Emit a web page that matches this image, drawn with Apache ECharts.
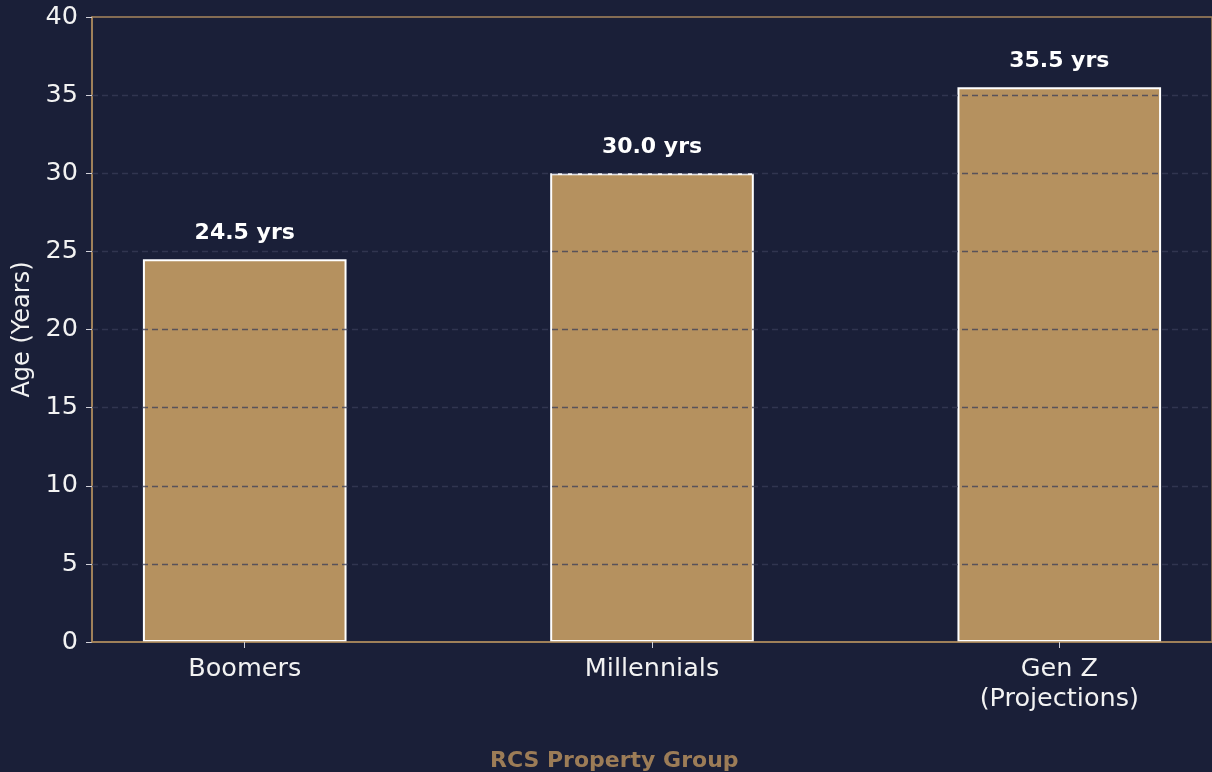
<!DOCTYPE html>
<html>
<head>
<meta charset="utf-8">
<title>Age by Generation</title>
<script src="https://cdn.jsdelivr.net/npm/echarts@6/dist/echarts.min.js"></script>
<style>
  html, body { margin: 0; padding: 0; background: #1a1f38; }
  #chart { width: 1212px; height: 772px; }
</style>
</head>
<body>
<div id="chart"></div>
<script>
// Generations and their age values (years)
const categories = ['Boomers', 'Millennials', 'Gen Z\n(Projections)'];
const ages = [24.5, 30.0, 35.5];
const yTicks = [0, 5, 10, 15, 20, 25, 30, 35, 40];
const categoryPositions = categories.map((_, i) => i);

const FONT = 'DejaVu Sans';
const TAN = '#b5915f';
const SPINE = '#a8875c';

const chart = echarts.init(document.getElementById('chart'), null, { renderer: 'canvas' });

chart.setOption({
  backgroundColor: '#1a1f38',
  animation: false,
  grid: {
    left: 92, right: 0, top: 17, bottom: 130,
    outerBoundsMode: 'none',
    containLabel: false,
    show: true, borderColor: SPINE, borderWidth: 1.5,
    backgroundColor: 'transparent'
  },
  xAxis: {
    type: 'value',
    min: -0.375,
    max: 2.375,
    z: 10,
    splitLine: { show: false },
    axisLine: { show: true, onZero: false, lineStyle: { color: SPINE, width: 1.5 } },
    axisTick: {
      show: true, customValues: categoryPositions, length: 6,
      lineStyle: { color: '#d0d0d8', width: 1 }
    },
    axisLabel: {
      customValues: categoryPositions,
      formatter: v => categories[Math.round(v)],
      color: '#f2f2f2', fontFamily: FONT, fontSize: 25.5,
      lineHeight: 30, margin: 12, verticalAlign: 'top'
    }
  },
  yAxis: {
    type: 'value',
    min: yTicks[0],
    max: yTicks[yTicks.length - 1],
    interval: 5,
    name: 'Age (Years)',
    nameLocation: 'middle',
    nameGap: 56,
    nameTextStyle: { color: '#f2f2f2', fontFamily: FONT, fontSize: 24 },
    splitLine: { show: false },
    axisLine: { show: true, onZero: false, lineStyle: { color: SPINE, width: 1.5 } },
    axisTick: { show: true, length: 6, lineStyle: { color: '#d0d0d8', width: 1 } },
    axisLabel: { color: '#f2f2f2', fontFamily: FONT, fontSize: 25.5, margin: 14 }
  },
  series: [{
    type: 'bar',
    data: ages.map((v, i) => [categoryPositions[i], v]),
    barWidth: '50%',
    itemStyle: { color: TAN, borderColor: '#ffffff', borderWidth: 2 },
    label: {
      show: true,
      position: 'top',
      distance: 15,
      formatter: p => p.value[1].toFixed(1) + ' yrs',
      color: '#ffffff', fontFamily: FONT, fontWeight: 'bold', fontSize: 22
    },
    // Dashed horizontal gridlines drawn over the bars
    markLine: {
      silent: true,
      symbol: 'none',
      label: { show: false },
      lineStyle: { type: [6, 4], width: 1.3, color: 'rgba(58,62,88,0.75)' },
      data: yTicks.slice(1, -1).map(v => ({ yAxis: v }))
    }
  }],
  graphic: [{
    type: 'text',
    left: 490,
    top: 750,
    style: {
      text: 'RCS Property Group',
      fill: '#9c7c57',
      font: 'bold 22px "DejaVu Sans"'
    }
  }]
});
</script>
</body>
</html>
